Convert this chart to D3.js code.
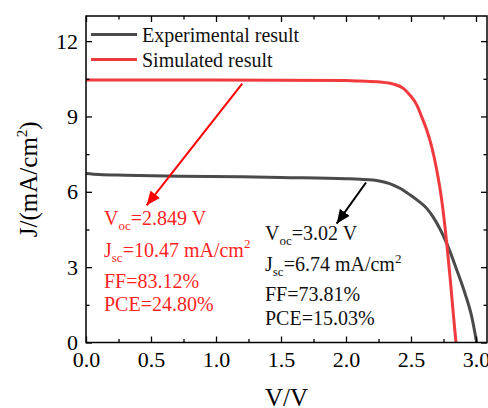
<!DOCTYPE html>
<html>
<head>
<meta charset="utf-8">
<script src="https://cdn.jsdelivr.net/npm/d3@7"></script>
<style>
body { margin: 0; background: #fff; }
text { font-family: "Liberation Serif", "Times New Roman", serif; }
</style>
</head>
<body>
<script>
// experimental J-V curve
var expV = [0, 0.1, 0.3, 0.72, 1.2, 1.5, 2.0, 2.108, 2.21, 2.3, 2.364, 2.415, 2.492, 2.56, 2.621, 2.672, 2.72, 2.775, 2.852, 2.915, 2.967, 3.005];
var expJ = [6.73, 6.69, 6.66, 6.62, 6.6, 6.57, 6.52, 6.5, 6.47, 6.38, 6.27, 6.14, 5.88, 5.62, 5.34, 4.98, 4.55, 3.95, 2.89, 1.96, 1.03, 0];

// simulated J-V curve
var simV = [0, 1.0, 2.0, 2.108, 2.262, 2.364, 2.441, 2.492, 2.544, 2.582, 2.621, 2.659, 2.698, 2.736, 2.775, 2.8, 2.825, 2.846];
var simJ = [10.45, 10.45, 10.43, 10.41, 10.37, 10.29, 10.12, 9.85, 9.46, 8.99, 8.46, 7.8, 6.87, 5.68, 3.95, 2.62, 1.16, 0];

var xTicks = [0, 0.5, 1.0, 1.5, 2.0, 2.5, 3.0];
var xMinor = [0.25, 0.75, 1.25, 1.75, 2.25, 2.75];
var yTicks = [0, 3, 6, 9, 12];
var yMinor = [1.5, 4.5, 7.5, 10.5];

var seriesNames = ['Experimental result', 'Simulated result'];
var seriesColors = ['#4a4a4a', '#f03a3e'];

// annotation text lines
var simLabels = [['V', 'oc', '=2.849 V', ''], ['J', 'sc', '=10.47 mA/cm', '2'], ['FF=83.12%', '', '', ''], ['PCE=24.80%', '', '', '']];
var expLabels = [['V', 'oc', '=3.02 V', ''], ['J', 'sc', '=6.74 mA/cm', '2'], ['FF=73.81%', '', '', ''], ['PCE=15.03%', '', '', '']];
// arrows [fromV, fromJ, toV, toJ]
var simArrow = [1.202, 10.31, 0.466, 5.46];
var expArrow = [2.154, 6.37, 1.928, 4.73];

var W = 488, H = 408;
var pL = 86, pR = 487, pT = 16, pB = 342.5;
var serif = '"Liberation Serif", "Times New Roman", serif';

var x = d3.scaleLinear().domain([0, (pR - pL) / 130]).range([pL, pR]);
var y = d3.scaleLinear().domain([0, 13]).range([pB, pT]);

var svg = d3.select('body').append('svg')
	.attr('width', W)
	.attr('height', H);

var defs = svg.append('defs');
function marker(id, col) {
	defs.append('marker')
		.attr('id', id)
		.attr('markerUnits', 'userSpaceOnUse')
		.attr('markerWidth', 16).attr('markerHeight', 12)
		.attr('refX', 14).attr('refY', 6)
		.attr('orient', 'auto')
		.append('path')
		.attr('d', 'M0,0 L14,6 L0,12 Z')
		.attr('fill', col);
}
marker('arR', '#ff0000');
marker('arK', '#000000');

// curves
var line = d3.line()
	.x(function(d) { return x(d[0]); })
	.y(function(d) { return y(d[1]); })
	.curve(d3.curveMonotoneX);

svg.append('path')
	.datum(expV.map(function(v, i) { return [v, expJ[i]]; }))
	.attr('d', line)
	.attr('fill', 'none')
	.attr('stroke', seriesColors[0])
	.attr('stroke-width', 3);

svg.append('path')
	.datum(simV.map(function(v, i) { return [v, simJ[i]]; }))
	.attr('d', line)
	.attr('fill', 'none')
	.attr('stroke', seriesColors[1])
	.attr('stroke-width', 3);

// axes
function styleAxis(g) {
	g.attr('font-family', serif).attr('font-size', 22);
	g.select('.domain').remove();
	g.selectAll('line').attr('stroke', '#000').attr('stroke-width', 1.3);
	g.selectAll('text').attr('fill', '#000');
}

svg.append('g').attr('transform', 'translate(0,' + pB + ')')
	.call(d3.axisBottom(x).tickValues(xTicks).tickSize(-6).tickPadding(9).tickFormat(d3.format('.1f')))
	.call(styleAxis)
	.selectAll('text').attr('dy', '0.71em');
svg.append('g').attr('transform', 'translate(0,' + pB + ')')
	.call(d3.axisBottom(x).tickValues(xMinor).tickSize(-3.5).tickFormat(''))
	.call(styleAxis);
svg.append('g').attr('transform', 'translate(0,' + pT + ')')
	.call(d3.axisTop(x).tickValues(xTicks).tickSize(-6).tickFormat(''))
	.call(styleAxis);
svg.append('g').attr('transform', 'translate(0,' + pT + ')')
	.call(d3.axisTop(x).tickValues(xMinor).tickSize(-3.5).tickFormat(''))
	.call(styleAxis);

svg.append('g').attr('transform', 'translate(' + pL + ',0)')
	.call(d3.axisLeft(y).tickValues(yTicks).tickSize(-6).tickPadding(8).tickFormat(d3.format('d')))
	.call(styleAxis);
svg.append('g').attr('transform', 'translate(' + pL + ',0)')
	.call(d3.axisLeft(y).tickValues(yMinor).tickSize(-3.5).tickFormat(''))
	.call(styleAxis);
svg.append('g').attr('transform', 'translate(' + pR + ',0)')
	.call(d3.axisRight(y).tickValues(yTicks).tickSize(-6).tickFormat(''))
	.call(styleAxis);
svg.append('g').attr('transform', 'translate(' + pR + ',0)')
	.call(d3.axisRight(y).tickValues(yMinor).tickSize(-3.5).tickFormat(''))
	.call(styleAxis);

svg.append('rect')
	.attr('x', pL).attr('y', pT)
	.attr('width', pR - pL).attr('height', pB - pT)
	.attr('fill', 'none')
	.attr('stroke', '#000')
	.attr('stroke-width', 1.5);

// axis titles
svg.append('text')
	.attr('x', (pL + pR) / 2).attr('y', 406)
	.attr('text-anchor', 'middle')
	.style('font-size', '25px')
	.text('V/V');

var yt = svg.append('text')
	.attr('transform', 'translate(37,' + ((pT + pB) / 2) + ') rotate(-90)')
	.attr('text-anchor', 'middle')
	.style('font-size', '25px');
yt.append('tspan').text('J/(mA/cm');
yt.append('tspan').attr('dy', -10).style('font-size', '15px').text('2');
yt.append('tspan').attr('dy', 10).text(')');

// legend
var leg = svg.append('g');
seriesNames.forEach(function(name, i) {
	var ly = 34.5 + i * 25;
	leg.append('line')
		.attr('x1', 91).attr('x2', 137)
		.attr('y1', ly).attr('y2', ly)
		.attr('stroke', seriesColors[i])
		.attr('stroke-width', 3);
	leg.append('text')
		.attr('x', 142).attr('y', ly + 7.2)
		.style('font-size', '20px')
		.attr('fill', '#111')
		.text(name);
});

// annotations
function drawLabels(lines, x0, baselines, col) {
	lines.forEach(function(l, i) {
		var t = svg.append('text')
			.attr('x', x0).attr('y', baselines[i])
			.style('font-size', '20px')
			.attr('fill', col);
		t.append('tspan').text(l[0]);
		if (l[1]) {
			t.append('tspan').attr('dy', 5).style('font-size', '13px').text(l[1]);
			t.append('tspan').attr('dy', -5).text(l[2]);
		} else if (l[2]) {
			t.append('tspan').text(l[2]);
		}
		if (l[3]) {
			t.append('tspan').attr('dy', -8.5).style('font-size', '13px').text(l[3]);
		}
	});
}
drawLabels(simLabels, 104, [225, 256.5, 288, 310.5], '#ff1f1f');
drawLabels(expLabels, 265, [240, 271, 301, 325], '#111');

function drawArrow(a, col, id) {
	svg.append('line')
		.attr('x1', x(a[0])).attr('y1', y(a[1]))
		.attr('x2', x(a[2])).attr('y2', y(a[3]))
		.attr('stroke', col)
		.attr('stroke-width', 2)
		.attr('marker-end', 'url(#' + id + ')');
}
drawArrow(simArrow, '#ff0000', 'arR');
drawArrow(expArrow, '#000', 'arK');
</script>
</body>
</html>
